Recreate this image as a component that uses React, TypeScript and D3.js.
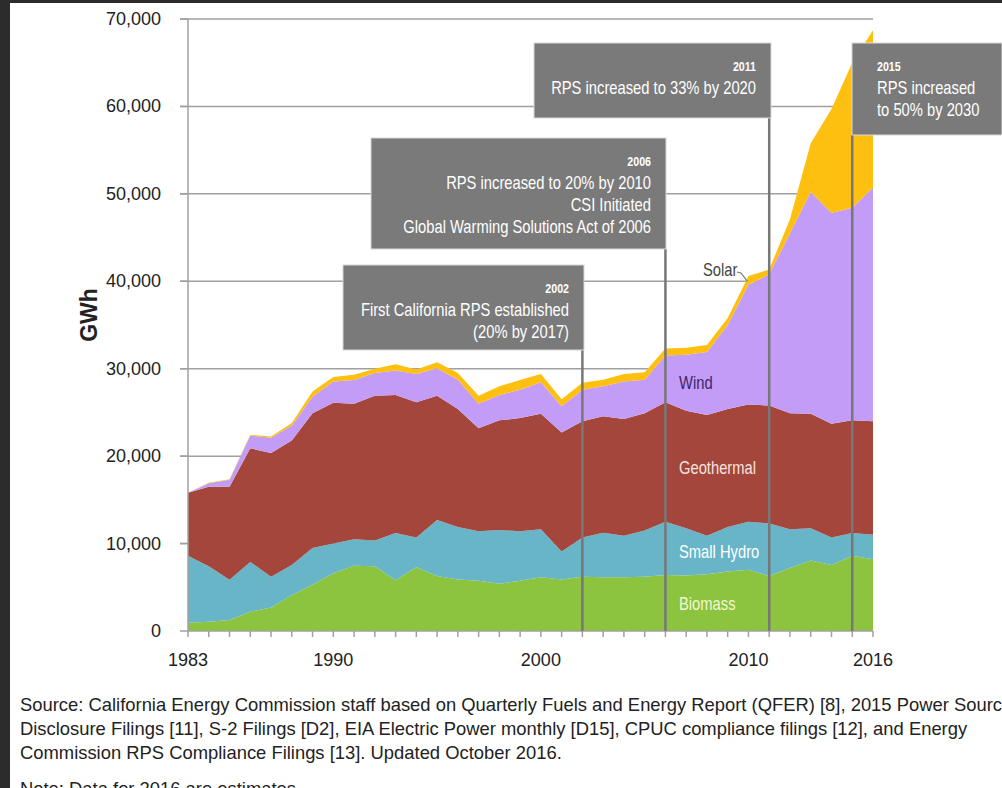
import React, { useEffect, useRef } from 'react';
import * as d3 from 'd3';

// Años
const years = [
  1983, 1984, 1985, 1986, 1987, 1988, 1989, 1990, 1991, 1992, 1993, 1994,
  1995, 1996, 1997, 1998, 1999, 2000, 2001, 2002, 2003, 2004, 2005, 2006,
  2007, 2008, 2009, 2010, 2011, 2012, 2013, 2014, 2015, 2016,
];

// GWh por fuente
const biomass = [
  950, 1070, 1260, 2200, 2700, 4100, 5300, 6600, 7450, 7400, 5800, 7300,
  6300, 5900, 5750, 5400, 5750, 6150, 5900, 6200, 6150, 6150, 6200, 6400,
  6350, 6500, 6800, 7000, 6300, 7200, 8050, 7550, 8600, 8200,
];
const smallHydro = [
  7650, 6330, 4590, 5700, 3500, 3450, 4200, 3400, 3050, 2950, 5400, 3400,
  6400, 6000, 5650, 6150, 5650, 5500, 3200, 4500, 5100, 4750, 5300, 6100,
  5400, 4400, 5100, 5500, 6000, 4450, 3700, 3150, 2600, 2800,
];
const geothermal = [
  7200, 9100, 10650, 13000, 14150, 14250, 15400, 16100, 15500, 16550, 15800, 15450,
  14200, 13500, 11800, 12550, 12950, 13200, 13600, 13300, 13300, 13350, 13400, 13650,
  13450, 13800, 13500, 13400, 13500, 13250, 13100, 13000, 12900, 13000,
];
const wind = [
  0, 400, 800, 1450, 1750, 1700, 1900, 2450, 2700, 2600, 2800, 3250,
  3150, 3350, 2800, 2900, 3250, 3600, 3000, 3600, 3450, 4300, 3850, 5350,
  6400, 7200, 9600, 13700, 15000, 20600, 25350, 24100, 24300, 26700,
];
const solar = [
  0, 50, 50, 100, 150, 300, 600, 500, 600, 500, 700, 500,
  700, 750, 900, 1000, 1100, 950, 800, 800, 750, 850, 850, 800,
  800, 800, 800, 1000, 550, 1600, 5600, 11900, 16600, 18000,
];

const keys = ['Biomass', 'Small Hydro', 'Geothermal', 'Wind', 'Solar'];
const colors = ['#8cc43f', '#69b5c8', '#a4463c', '#c29cf7', '#fdc010'];

const yTicks = [0, 10000, 20000, 30000, 40000, 50000, 60000, 70000];
const xLabels = [1983, 1990, 2000, 2010, 2016];

// Hitos
const milestoneYears = [2002, 2006, 2011, 2015];
const milestoneLines = [
  ['First California RPS established', '(20% by 2017)'],
  ['RPS increased to 20% by 2010', 'CSI Initiated', 'Global Warming Solutions Act of 2006'],
  ['RPS increased to 33% by 2020'],
  ['RPS increased', 'to 50% by 2030'],
];

const sourceLines = [
  'Source: California Energy Commission staff based on Quarterly Fuels and Energy Report (QFER) [8], 2015 Power Source',
  'Disclosure Filings [11], S-2 Filings [D2], EIA Electric Power monthly [D15], CPUC compliance filings [12], and Energy',
  'Commission RPS Compliance Filings [13]. Updated October 2016.',
  'Note: Data for 2016 are estimates',
];

const SANS = '"Liberation Sans", Arial, sans-serif';
const SQUEEZE = 0.82; // imitar una fuente estrecha

const App = () => {
  const ref = useRef<SVGSVGElement>(null);

  useEffect(() => {
    const svg = d3.select(ref.current);
    svg.selectAll('*').remove();

    const x = d3.scaleLinear().domain([1983, 2016]).range([188, 873]);
    const y = d3.scaleLinear().domain([0, 70000]).range([631, 19]);

    // texto estrecho
    const narrow = (g, tx, ty, t, size, fill, anchor = 'start', weight = 'normal') =>
      g.append('text')
        .attr('transform', `translate(${tx},${ty}) scale(${SQUEEZE},1)`)
        .attr('text-anchor', anchor)
        .attr('font-family', SANS)
        .attr('font-size', size)
        .attr('font-weight', weight)
        .attr('fill', fill)
        .text(t);

    // marco oscuro
    svg.append('rect').attr('x', 0).attr('y', 0).attr('width', 1002).attr('height', 788).attr('fill', '#fff');
    svg.append('rect').attr('x', 0).attr('y', 0).attr('width', 10).attr('height', 788).attr('fill', '#2c2c2c');
    svg.append('rect').attr('x', 0).attr('y', 0).attr('width', 1002).attr('height', 3).attr('fill', '#2c2c2c');

    // rejilla
    svg.append('g')
      .selectAll('line')
      .data(yTicks.slice(1))
      .enter()
      .append('line')
      .attr('x1', 180)
      .attr('x2', 873)
      .attr('y1', d => y(d))
      .attr('y2', d => y(d))
      .attr('stroke', '#a0a0a0')
      .attr('stroke-width', 1.5);

    // datos apilados
    const rows = years.map((yr, i) => ({
      year: yr,
      Biomass: biomass[i],
      'Small Hydro': smallHydro[i],
      Geothermal: geothermal[i],
      Wind: wind[i],
      Solar: solar[i],
    }));
    const series = d3.stack<any>().keys(keys)(rows);

    const area = d3.area<any>()
      .x(d => x(d.data.year))
      .y0(d => y(d[0]))
      .y1(d => y(d[1]));

    svg.append('g')
      .selectAll('path')
      .data(series)
      .enter()
      .append('path')
      .attr('d', area)
      .attr('fill', (d, i) => colors[i]);

    // ejes
    svg.append('line')
      .attr('x1', x(1983)).attr('x2', x(1983))
      .attr('y1', y(70000)).attr('y2', y(0))
      .attr('stroke', '#a0a0a0').attr('stroke-width', 1.5);
    svg.append('g')
      .selectAll('line')
      .data(yTicks)
      .enter()
      .append('line')
      .attr('x1', 180).attr('x2', x(1983))
      .attr('y1', d => y(d)).attr('y2', d => y(d))
      .attr('stroke', '#a0a0a0').attr('stroke-width', 1.5);

    svg.append('line')
      .attr('x1', x(1983)).attr('x2', x(2016))
      .attr('y1', y(0)).attr('y2', y(0))
      .attr('stroke', '#a0a0a0').attr('stroke-width', 1.5);
    svg.append('g')
      .selectAll('line')
      .data(years)
      .enter()
      .append('line')
      .attr('x1', d => x(d)).attr('x2', d => x(d))
      .attr('y1', y(0)).attr('y2', y(0) + 6)
      .attr('stroke', '#a0a0a0').attr('stroke-width', 1.5);

    svg.append('g')
      .selectAll('text')
      .data(yTicks)
      .enter()
      .append('text')
      .attr('x', 161)
      .attr('y', d => y(d) + 6)
      .attr('text-anchor', 'end')
      .attr('font-family', SANS)
      .attr('font-size', 18)
      .attr('fill', '#222')
      .text(d => d3.format(',')(d));

    svg.append('g')
      .selectAll('text')
      .data(xLabels)
      .enter()
      .append('text')
      .attr('x', d => x(d))
      .attr('y', 666)
      .attr('text-anchor', 'middle')
      .attr('font-family', SANS)
      .attr('font-size', 18)
      .attr('fill', '#222')
      .text(d => d);

    svg.append('text')
      .attr('transform', 'translate(97, 315) rotate(-90)')
      .attr('text-anchor', 'middle')
      .attr('font-family', SANS)
      .attr('font-size', 23)
      .attr('font-weight', 'bold')
      .attr('fill', '#222')
      .text('GWh');

    // hitos: cajas y líneas
    const boxes = [
      { x0: 343, x1: 584, y0: 265, y1: 350, right: true },
      { x0: 371, x1: 666, y0: 138, y1: 249, right: true },
      { x0: 534, x1: 771, y0: 43, y1: 118, right: true },
      { x0: 852, x1: 1002, y0: 43, y1: 135, right: false },
    ];

    milestoneYears.forEach((yr, i) => {
      const b = boxes[i];
      svg.append('line')
        .attr('x1', x(yr)).attr('x2', x(yr))
        .attr('y1', b.y1).attr('y2', y(0))
        .attr('stroke', '#777').attr('stroke-width', 2.5);
      svg.append('rect')
        .attr('x', b.x0).attr('y', b.y0)
        .attr('width', b.x1 - b.x0).attr('height', b.y1 - b.y0)
        .attr('fill', '#7a7a7a')
        .attr('stroke', '#d8d8d8').attr('stroke-width', 1);
      const tx = b.right ? b.x1 - 15 : b.x0 + 25;
      const anchor = b.right ? 'end' : 'start';
      narrow(svg, tx, b.y0 + 28, yr, 13, '#fff', anchor, 'bold');
      milestoneLines[i].forEach((t, j) => {
        narrow(svg, tx, b.y0 + 51 + j * 22, t, 18, '#fff', anchor);
      });
    });

    // etiquetas de series
    narrow(svg, 679, 610, 'Biomass', 18, '#f2f7d6');
    narrow(svg, 679, 558, 'Small Hydro', 18, '#ffffff');
    narrow(svg, 679, 474, 'Geothermal', 18, '#f6e2de');
    narrow(svg, 679, 389, 'Wind', 18, '#3e2468');
    narrow(svg, 703, 276, 'Solar', 18, '#444');
    svg.append('path')
      .attr('d', `M737,272 L741,273 L${x(2010) - 1},${y(40000)}`)
      .attr('fill', 'none')
      .attr('stroke', '#777')
      .attr('stroke-width', 1.2);

    // fuente
    svg.append('g')
      .selectAll('text')
      .data(sourceLines)
      .enter()
      .append('text')
      .attr('x', 20)
      .attr('y', (d, i) => (i < 3 ? 711 + i * 24 : 795))
      .attr('font-family', SANS)
      .attr('font-size', 18.4)
      .attr('fill', '#222')
      .text(d => d);
  }, []);

  return (
    <svg
      ref={ref}
      width={1002}
      height={788}
      style={{ position: 'absolute', left: 0, top: 0, display: 'block' }}
    />
  );
};

export default App;
